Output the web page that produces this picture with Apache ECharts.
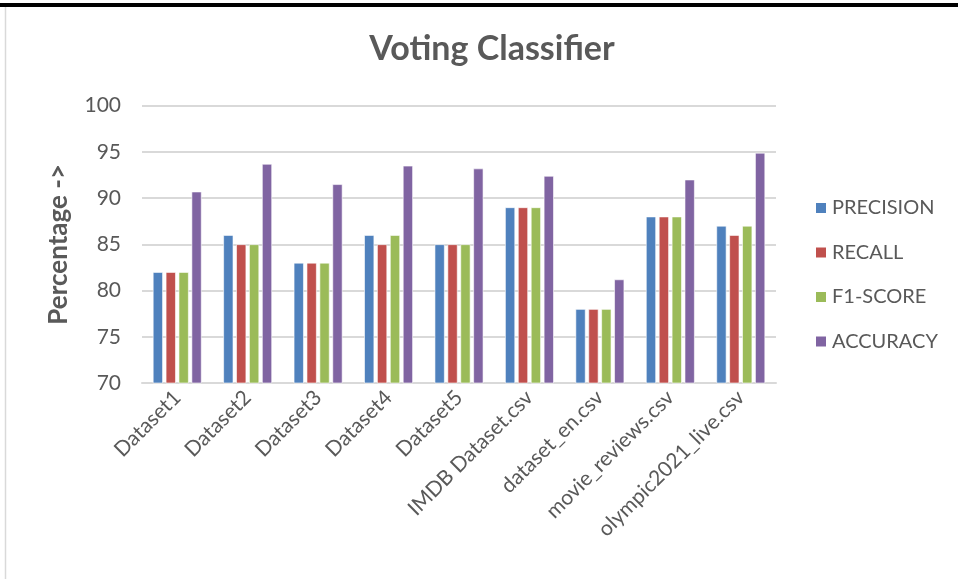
<!DOCTYPE html>
<html>
<head>
<meta charset="utf-8">
<script src="https://cdn.jsdelivr.net/npm/echarts@6/dist/echarts.min.js"></script>
<style>
  html, body { margin: 0; padding: 0; background: #fff; }
  #chart { width: 958px; height: 579px; }
</style>
</head>
<body>
<div id="chart"></div>
<script>
// data
var categories = ['Dataset1', 'Dataset2', 'Dataset3', 'Dataset4', 'Dataset5',
  'IMDB Dataset.csv', 'dataset_en.csv', 'movie_reviews.csv', 'olympic2021_live.csv'];
var precision = [82, 86, 83, 86, 85, 89, 78, 88, 87];
var recall    = [82, 85, 83, 85, 85, 89, 78, 88, 86];
var f1score   = [82, 85, 83, 86, 85, 89, 78, 88, 87];
var accuracy  = [90.7, 93.7, 91.5, 93.5, 93.2, 92.4, 81.2, 92, 94.9];
var yTicks = [70, 75, 80, 85, 90, 95, 100];

var FONT = 'Lato';
var GREY = '#595959';

var chart = echarts.init(document.getElementById('chart'));

function bar(name, data, color) {
  return {
    name: name,
    type: 'bar',
    data: data,
    barWidth: 10,
    barGap: '29%',
    itemStyle: { color: color, borderColor: '#fff', borderWidth: 0.6 }
  };
}

var option = {
  animation: false,
  title: {
    text: 'Voting Classifier',
    left: 487,
    top: 27,
    textAlign: 'center',
    textStyle: { fontFamily: FONT, fontSize: 34, fontWeight: 'bold', color: GREY }
  },
  legend: {
    orient: 'vertical',
    left: 809,
    top: 193,
    itemWidth: 12,
    itemHeight: 12,
    itemGap: 24.5,
    icon: 'rect',
    textStyle: { fontFamily: FONT, fontSize: 20, color: GREY, padding: [0, 0, 0, 0] }
  },
  grid: { left: 142, right: 182, top: 105.7, bottom: 196 },
  xAxis: {
    type: 'category',
    data: categories,
    axisLine: { lineStyle: { color: '#d9d9d9', width: 2 } },
    axisTick: { show: false },
    axisLabel: {
      rotate: 45,
      interval: 0,
      margin: 11,
      fontFamily: FONT,
      fontSize: 21,
      color: GREY
    }
  },
  yAxis: {
    type: 'value',
    min: yTicks[0],
    max: yTicks[yTicks.length - 1],
    interval: 5,
    name: 'Percentage ->',
    nameLocation: 'middle',
    nameGap: 70,
    nameTextStyle: { fontFamily: FONT, fontSize: 26, fontWeight: 'bold', color: GREY },
    axisLine: { show: false },
    axisTick: { show: false },
    splitLine: { lineStyle: { color: '#d9d9d9', width: 2 } },
    axisLabel: { margin: 21, fontFamily: FONT, fontSize: 21, color: GREY }
  },
  graphic: [
    { type: 'rect', shape: { x: 0, y: 3, width: 958, height: 4 }, style: { fill: '#000' } },
    { type: 'line', shape: { x1: 5.5, y1: 7, x2: 5.5, y2: 579 }, style: { stroke: '#d9d9d9', lineWidth: 1.5 } }
  ],
  series: [
    bar('PRECISION', precision, '#4f81bd'),
    bar('RECALL', recall, '#c0504d'),
    bar('F1-SCORE', f1score, '#9bbb59'),
    bar('ACCURACY', accuracy, '#8064a2')
  ]
};

chart.setOption(option);
</script>
</body>
</html>
